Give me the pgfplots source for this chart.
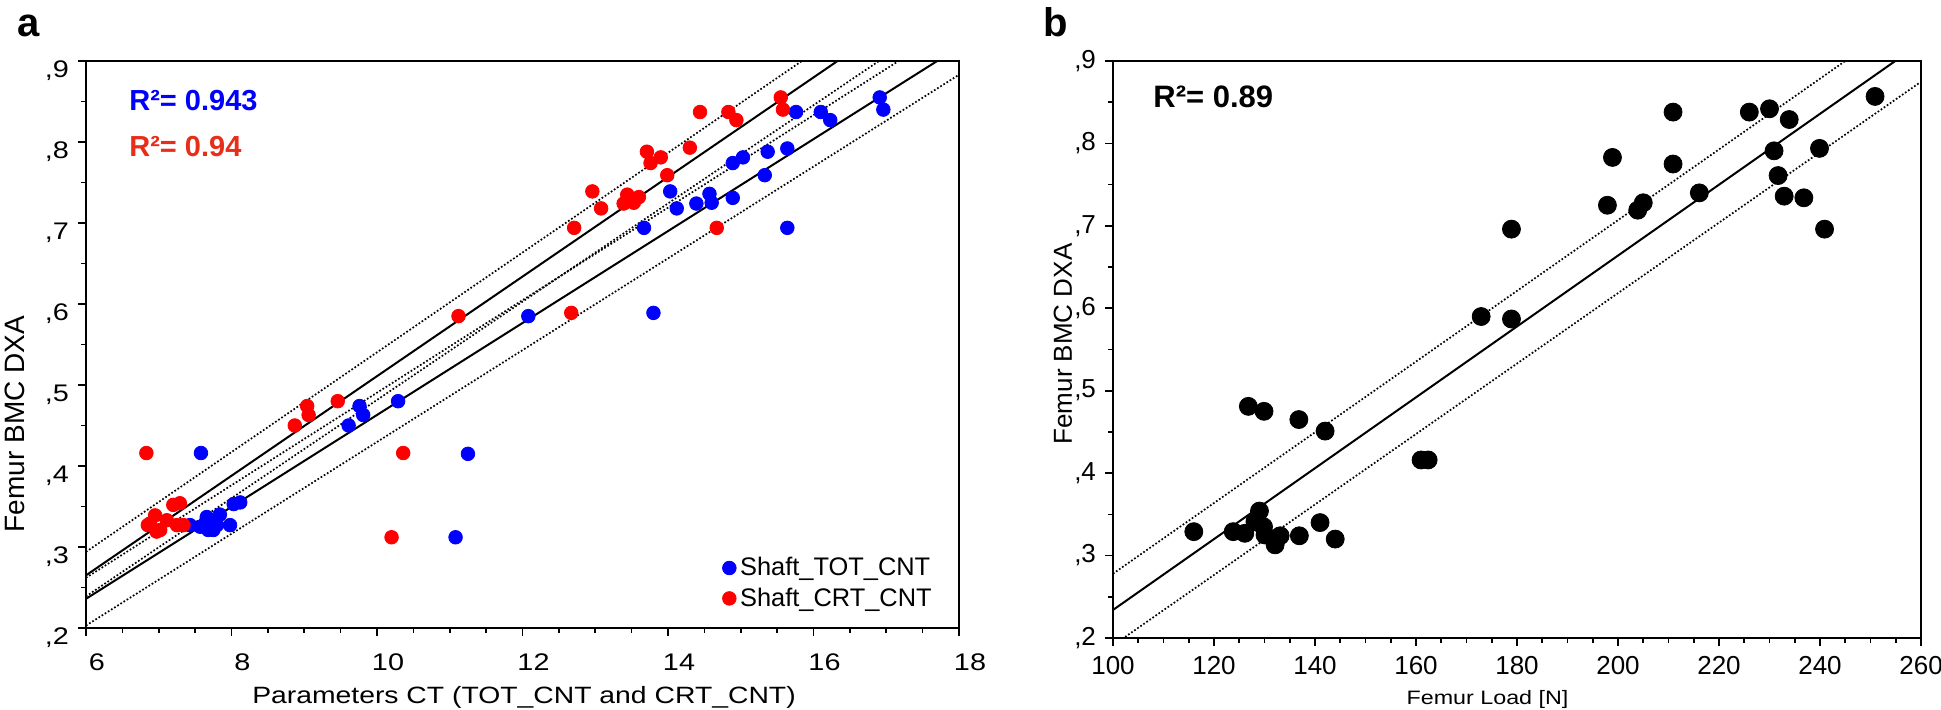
\documentclass[border=0pt]{standalone}
\usepackage{fontspec}
\setmainfont{Liberation Sans}
\newfontfamily\wide{Liberation Sans}[FakeStretch=1.2]
\usepackage{pgfplots}
\pgfplotsset{compat=1.18}
\definecolor{ptblue}{RGB}{0,0,255}
\definecolor{ptred}{RGB}{255,0,0}
\definecolor{txtred}{RGB}{232,45,25}
\begin{document}
\begin{tikzpicture}[x=1pt,y=1pt]
\useasboundingbox (0,0) rectangle (970.5,355);
% ---------------- panel a ----------------
\begin{axis}[
  at={(43pt,41pt)}, anchor=south west,
  scale only axis, width=436.5pt, height=283.5pt,
  xmin=6, xmax=18, ymin=0.2, ymax=0.9,
  axis line style={line width=1pt},
  tick align=outside, tick style={black, line width=0.8pt},
  major tick length=4pt, minor tick length=2.5pt,
  xtick={6,8,...,18}, minor x tick num=3,
  ytick={0.2,0.3,...,0.9}, minor y tick num=1,
  yticklabels={{,2},{,3},{,4},{,5},{,6},{,7},{,8},{,9}},
  xtick pos=bottom, ytick pos=left,
  /pgf/number format/assume math mode=true,
  xticklabel style={font=\wide\fontsize{12}{12}\selectfont, anchor=base, yshift=-17.5pt, xshift=5.5pt},
  yticklabel style={font=\wide\fontsize{12}{12}\selectfont, anchor=east, yshift=-5pt, xshift=-1pt},
  legend style={draw=none, fill=none, at={(0.976,0.022)}, anchor=south east,
    font=\fontsize{12.7}{12.7}\selectfont, row sep=0.5pt, inner sep=1pt},
  legend cell align=left,
  clip=true,
]
\addplot[only marks, mark=*, mark size=3.4pt, color=ptblue] coordinates {
 (7.43,0.327) (7.57,0.325) (7.66,0.337) (7.68,0.321) (7.80,0.327) (7.84,0.340)
 (7.98,0.327) (8.03,0.353) (8.12,0.355) (7.75,0.321)
 (7.58,0.416) (11.08,0.312) (11.25,0.415) (9.61,0.450) (9.76,0.474) (9.81,0.463)
 (10.29,0.480) (12.08,0.585) (13.80,0.589) (13.67,0.694) (15.64,0.694) (14.12,0.718)
 (14.39,0.724) (14.57,0.736) (14.60,0.725) (14.89,0.731) (14.03,0.739) (15.33,0.759)
 (14.89,0.774) (15.03,0.781) (15.37,0.788) (15.64,0.792) (15.76,0.837) (16.10,0.837)
 (16.23,0.827) (16.91,0.855) (16.96,0.840)
};
\addlegendentry{Shaft\_TOT\_CNT}
\addplot[only marks, mark=*, mark size=3.4pt, color=ptred] coordinates {
 (6.85,0.327) (6.88,0.329) (6.95,0.339) (7.02,0.321) (7.11,0.333) (7.25,0.327)
 (7.34,0.327) (7.20,0.352) (7.29,0.354) (6.97,0.319)
 (6.83,0.416) (10.36,0.416) (10.20,0.312) (8.87,0.450) (9.04,0.474) (9.06,0.463)
 (9.46,0.480) (11.12,0.585) (12.67,0.589) (12.71,0.694) (14.67,0.694) (13.08,0.718)
 (13.39,0.724) (13.53,0.725) (13.44,0.735) (13.60,0.732) (12.96,0.739) (13.99,0.759)
 (13.76,0.774) (13.90,0.781) (13.71,0.788) (14.30,0.793) (14.44,0.837) (14.83,0.837)
 (14.94,0.827) (15.55,0.855) (15.58,0.840)
};
\addlegendentry{Shaft\_CRT\_CNT}
% regression lines and bands
\addplot[black, line width=1pt, forget plot] coordinates {(6,0.265) (16.33,0.9)};
\addplot[black, line width=1pt, forget plot] coordinates {(6,0.236) (17.70,0.9)};
\addplot[black, densely dotted, line width=0.85pt, forget plot] coordinates {(6,0.294) (15.84,0.9)};
\addplot[black, densely dotted, line width=0.85pt, forget plot] coordinates {(6,0.239) (16.90,0.9)};
\addplot[black, densely dotted, line width=0.85pt, forget plot] coordinates {(6,0.262) (17.17,0.9)};
\addplot[black, densely dotted, line width=0.85pt, forget plot] coordinates {(6,0.203) (18,0.883)};
\end{axis}
% ---------------- panel b ----------------
\begin{axis}[
  at={(556.5pt,36pt)}, anchor=south west,
  scale only axis, width=404pt, height=288.5pt,
  xmin=100, xmax=260, ymin=0.2, ymax=0.9,
  axis line style={line width=1pt},
  tick align=outside, tick style={black, line width=0.8pt},
  major tick length=4pt, minor tick length=2.5pt,
  xtick={100,120,...,260}, minor x tick num=3,
  ytick={0.2,0.3,...,0.9}, minor y tick num=1,
  yticklabels={{,2},{,3},{,4},{,5},{,6},{,7},{,8},{,9}},
  xtick pos=bottom, ytick pos=left,
  /pgf/number format/assume math mode=true,
  xticklabel style={font=\fontsize{13}{13}\selectfont, anchor=base, yshift=-14.5pt},
  yticklabel style={font=\fontsize{13}{13}\selectfont, anchor=east, xshift=-1pt},
  clip=true,
]
\addplot[only marks, mark=*, mark size=4.5pt, color=black] coordinates {
 (116.0,0.329) (123.8,0.329) (126.1,0.327) (128.1,0.341) (129.0,0.354) (129.8,0.335)
 (130.1,0.325) (132.1,0.313) (133.1,0.324) (136.9,0.324) (141.0,0.340) (144.0,0.320)
 (126.8,0.481) (129.9,0.475) (136.8,0.465) (142.0,0.451) (161.0,0.416) (162.4,0.416)
 (172.9,0.590) (178.9,0.587) (178.9,0.696) (197.9,0.725) (198.9,0.783) (203.9,0.719)
 (205.0,0.728) (210.9,0.775) (210.9,0.838) (216.1,0.740) (226.0,0.838) (230.0,0.842)
 (230.9,0.791) (231.7,0.761) (232.9,0.736) (233.9,0.829) (236.8,0.734) (239.9,0.794)
 (240.9,0.696) (250.9,0.857)
};
\addplot[black, line width=1pt] coordinates {(100,0.234) (254.9,0.9)};
\addplot[black, densely dotted, line width=0.85pt] coordinates {(100,0.278) (245.0,0.9)};
\addplot[black, densely dotted, line width=0.85pt] coordinates {(100,0.191) (259.8,0.874)};
\end{axis}
% ---------------- texts ----------------
\node[anchor=center, font=\bfseries\fontsize{20}{20}\selectfont] at (14.5,342) {a};
\node[anchor=center, font=\bfseries\fontsize{20}{20}\selectfont] at (528,344) {b};
\node[anchor=west, inner sep=0pt, text=ptblue, font=\bfseries\fontsize{14.5}{14.5}\selectfont] at (64.5,304.5) {R²= 0.943};
\node[anchor=west, inner sep=0pt, text=txtred, font=\bfseries\fontsize{14.5}{14.5}\selectfont] at (64.5,281.5) {R²= 0.94};
\node[anchor=west, inner sep=0pt, font=\bfseries\fontsize{15.5}{15.5}\selectfont] at (576.5,306.5) {R²= 0.89};
\node[anchor=base, inner sep=0pt, font=\wide\fontsize{11.8}{11.8}\selectfont] at (262,3) {Parameters CT (TOT\_CNT and CRT\_CNT)};
\node[anchor=base, inner sep=0pt, font=\wide\fontsize{9.7}{9.7}\selectfont] at (743.75,2.5) {Femur Load [N]};
\node[rotate=90, anchor=center, inner sep=0pt, font=\fontsize{14}{14}\selectfont] at (7.5,143) {Femur BMC DXA};
\node[rotate=90, anchor=center, inner sep=0pt, font=\fontsize{13}{13}\selectfont] at (531.5,183) {Femur BMC DXA};
\end{tikzpicture}
\end{document}
